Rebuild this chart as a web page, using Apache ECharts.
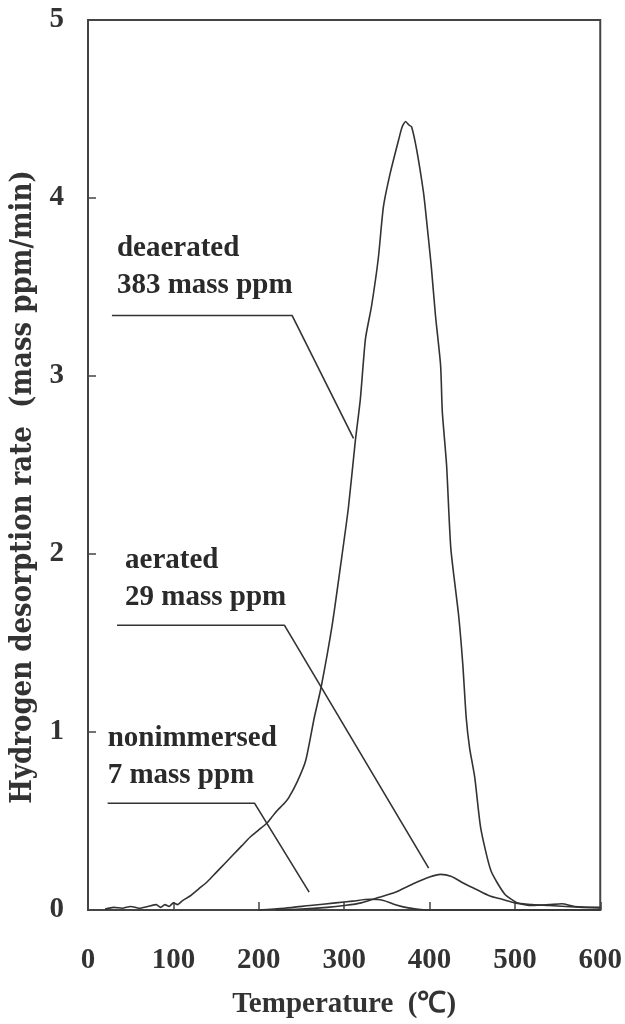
<!DOCTYPE html>
<html><head><meta charset="utf-8">
<script src="https://cdn.jsdelivr.net/npm/echarts@6/dist/echarts.min.js"></script>
<style>html,body{margin:0;background:#fff}#c{width:625px;height:1024px}</style>
</head><body><div id="c"></div><script>
// ---- data (temperature in degC, rate in mass ppm/min) ----
const deaeratedT = [20,30,40,50,60,70,80,85,90,95,100,105,110,120,130,140,150,160,170,180,190,200,210,215,220,230,235,245,255,265,273,286,296,305,313,319,325,332,340,346,354,364,368,372,376,379,385,393,396,402,407,413,415,420,425,434,439,443,447,453,460,472,488,503,520,540,555,570,600];
const deaeratedV = [0.005,0.015,0.01,0.02,0.01,0.02,0.03,0.015,0.03,0.02,0.04,0.03,0.05,0.08,0.12,0.16,0.21,0.26,0.31,0.36,0.41,0.45,0.49,0.52,0.55,0.60,0.63,0.72,0.84,1.08,1.25,1.60,1.94,2.26,2.63,2.87,3.21,3.39,3.66,3.95,4.14,4.33,4.40,4.43,4.41,4.40,4.27,4.03,3.90,3.62,3.34,3.06,2.80,2.50,2.03,1.66,1.38,1.08,0.91,0.745,0.46,0.22,0.09,0.04,0.025,0.03,0.035,0.02,0.015];
const aeratedT = [220,250,280,300,320,340,360,380,400,413,425,440,455,470,485,500,520,540,560,580,600];
const aeratedV = [0,0.005,0.015,0.025,0.04,0.07,0.10,0.145,0.185,0.20,0.19,0.15,0.115,0.08,0.06,0.04,0.03,0.025,0.02,0.015,0.012];
const nonimT = [200,230,260,290,310,330,345,360,375,390,400,450,500,550,600];
const nonimV = [0,0.01,0.025,0.04,0.05,0.06,0.055,0.03,0.012,0.003,0,0,0,0,0];
// annotations: label texts and leader line points [T, rate]
const labelTexts = [['deaerated','383 mass ppm'],['aerated','29 mass ppm'],['nonimmersed','7 mass ppm']];
const leaderDeaerated = [[28,3.34],[239,3.34],[311,2.65]];
const leaderAerated = [[34,1.60],[230,1.60],[399,0.235]];
const leaderNonim = [[23,0.60],[195,0.60],[259,0.10]];
const xTickLabels = [0,100,200,300,400,500,600];
const yTickLabels = [0,1,2,3,4,5];

const zip = (t,v) => t.map((x,i)=>[x,v[i]]);
const C = '#333333';
const F = '"Liberation Serif","Times New Roman",serif';
const lineS = (name,data,smooth) => ({name,type:'line',data,symbol:'none',smooth:smooth||false,lineStyle:{color:C,width:1.6},silent:true,animation:false});
const leader = (pts,txt,dist,offx) => [
  lineS('leader',pts),
  {type:'scatter',data:[pts[0]],symbolSize:2,itemStyle:{color:'rgba(0,0,0,0)'},animation:false,silent:true,
   label:{show:true,opacity:1,position:'top',align:'left',verticalAlign:'bottom',distance:dist,offset:[offx,0],
     formatter:txt.join('\n'),fontFamily:F,fontWeight:'bold',fontSize:29,lineHeight:37,color:'#2a2a2a'}}
];

const chart = echarts.init(document.getElementById('c'));
chart.setOption({
  animation:false,
  grid:{left:88,right:23,top:20,bottom:111,show:true,borderColor:'#444',borderWidth:2},
  xAxis:{type:'value',min:0,max:600,interval:100,
    name:'Temperature  (\u2103)',nameLocation:'middle',nameGap:80,
    nameTextStyle:{fontFamily:F,fontWeight:'bold',fontSize:29,color:C},
    axisLine:{lineStyle:{color:'#444',width:2}},
    axisTick:{inside:true,length:8,lineStyle:{color:'#444',width:1.5}},
    axisLabel:{margin:36,fontFamily:F,fontWeight:'bold',fontSize:29,color:C,
      formatter:v=>xTickLabels.includes(v)?String(v):''},
    splitLine:{show:false}},
  yAxis:{type:'value',min:0,max:5,interval:1,
    name:'Hydrogen desorption rate  (mass ppm/min)',nameLocation:'middle',nameGap:50,nameRotate:90,
    nameTextStyle:{fontFamily:'"DejaVu Serif Condensed","DejaVu Serif",serif',fontWeight:'bold',fontSize:29,color:C,padding:[0,44,0,0]},
    axisLine:{lineStyle:{color:'#444',width:2}},
    axisTick:{inside:true,length:8,lineStyle:{color:'#444',width:1.5}},
    axisLabel:{margin:24,fontFamily:F,fontWeight:'bold',fontSize:29,color:C,
      formatter:v=>yTickLabels.includes(v)?String(v):''},
    splitLine:{show:false}},
  series:[
    lineS('deaerated',zip(deaeratedT,deaeratedV),0.2),
    lineS('aerated',zip(aeratedT,aeratedV),0.3),
    lineS('nonimmersed',zip(nonimT,nonimV),0.3),
    ...leader(leaderDeaerated,labelTexts[0],10,5),
    ...leader(leaderAerated,labelTexts[1],8,8),
    ...leader(leaderNonim,labelTexts[2],8,0)
  ]
});
</script></body></html>
